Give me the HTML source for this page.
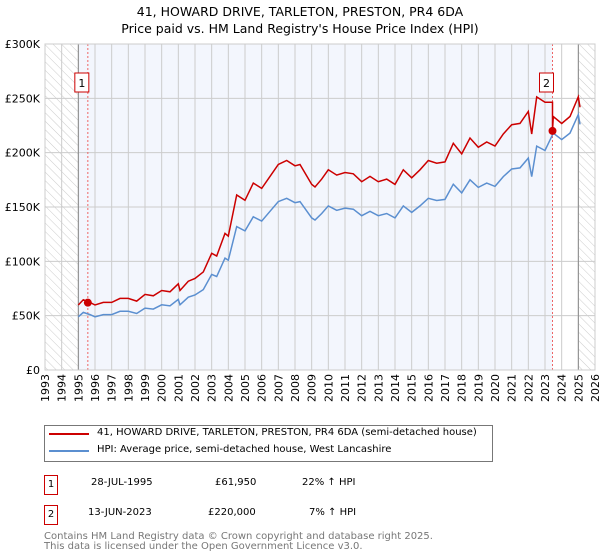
<!DOCTYPE html>
<html><head><meta charset="utf-8">
<style>
body{margin:0;background:#fff;font-family:"DejaVu Sans","Liberation Sans",sans-serif;}
#wrap{position:relative;width:600px;height:560px;overflow:hidden;}
.t{position:absolute;font-size:11px;color:#000;white-space:nowrap;}
</style></head><body>
<div id="wrap">
<svg id="chart" width="600" height="420" style="position:absolute;left:0;top:0"></svg>
<div class="t" style="left:0;width:600px;text-align:center;top:4px;font-size:12.5px">41, HOWARD DRIVE, TARLETON, PRESTON, PR4 6DA</div>
<div class="t" style="left:0;width:600px;text-align:center;top:21px;font-size:12.5px">Price paid vs. HM Land Registry's House Price Index (HPI)</div>
<div style="position:absolute;left:44px;top:425px;width:447px;height:35px;border:1px solid #777;">
 <div style="position:absolute;left:4px;top:7px;width:40px;height:2px;background:#cc0000"></div>
 <div class="t" style="left:52px;top:1px;font-size:10px">41, HOWARD DRIVE, TARLETON, PRESTON, PR4 6DA (semi-detached house)</div>
 <div style="position:absolute;left:4px;top:24px;width:40px;height:2px;background:#5b8fd0"></div>
 <div class="t" style="left:52px;top:18px;font-size:10px">HPI: Average price, semi-detached house, West Lancashire</div>
</div>
<div style="position:absolute;left:44px;top:475px;width:12px;height:18px;border:1px solid #cc0000;font-size:10px;text-align:center;line-height:18px">1</div>
<div class="t" style="left:91px;top:477px;font-size:10px">28-JUL-1995</div>
<div class="t" style="left:215px;top:477px;font-size:10px">£61,950</div>
<div class="t" style="left:302px;top:477px;font-size:10px">22% ↑ HPI</div>
<div style="position:absolute;left:44px;top:505px;width:12px;height:18px;border:1px solid #cc0000;font-size:10px;text-align:center;line-height:18px">2</div>
<div class="t" style="left:88px;top:507px;font-size:10px">13-JUN-2023</div>
<div class="t" style="left:208px;top:507px;font-size:10px">£220,000</div>
<div class="t" style="left:309px;top:507px;font-size:10px">7% ↑ HPI</div>
<div class="t" style="left:44px;top:532px;font-size:10px;color:#777;line-height:10px">Contains HM Land Registry data © Crown copyright and database right 2025.<br>This data is licensed under the Open Government Licence v3.0.</div>
</div>
<script>
const hpiYears=[1995.0,1995.3,1995.7,1996.0,1996.5,1997.0,1997.5,1998.0,1998.5,1999.0,1999.5,2000.0,2000.5,2001.0,2001.1,2001.6,2002.0,2002.5,2003.0,2003.3,2003.8,2004.0,2004.5,2005.0,2005.5,2006.0,2006.5,2007.0,2007.5,2008.0,2008.3,2009.0,2009.2,2009.6,2010.0,2010.5,2011.0,2011.5,2012.0,2012.5,2013.0,2013.5,2014.0,2014.5,2015.0,2015.5,2016.0,2016.5,2017.0,2017.5,2018.0,2018.5,2019.0,2019.5,2020.0,2020.5,2021.0,2021.5,2022.0,2022.2,2022.5,2023.0,2023.5,2024.0,2024.5,2025.0,2025.1];
const hpiValues=[49,53,51,49,51,51,54,54,52,57,56,60,59,65,60,67,69,74,88,86,103,101,132,128,141,137,146,155,158,154,155,140,138,144,151,147,149,148,142,146,142,144,140,151,145,151,158,156,157,171,163,175,168,172,169,178,185,186,195,178,206,202,218,212,218,235,226];
const saleYears=[1995.57,2023.45];
const salePrices=[61.95,220];
const salePremium=[1.22,1.07];
const yTicks=[0,50,100,150,200,250,300];
const yLabels=["£0","£50K","£100K","£150K","£200K","£250K","£300K"];
const xTicks=[1993,1994,1995,1996,1997,1998,1999,2000,2001,2002,2003,2004,2005,2006,2007,2008,2009,2010,2011,2012,2013,2014,2015,2016,2017,2018,2019,2020,2021,2022,2023,2024,2025,2026];

const svg=document.getElementById('chart');const NS='http://www.w3.org/2000/svg';
const X0=45,X1=595,Y0=370,Y1=44;
const sx=y=>X0+(y-1993)/(2026-1993)*(X1-X0);
const sy=v=>Y0-v/300*(Y0-Y1);
function mk(t,a,parent){const e=document.createElementNS(NS,t);for(const k in a)e.setAttribute(k,a[k]);(parent||svg).appendChild(e);return e;}
const defs=mk('defs',{});
const pat=mk('pattern',{id:'hatch',width:6,height:6,patternUnits:'userSpaceOnUse',patternTransform:'rotate(-45)'},defs);
mk('line',{x1:0,y1:0,x2:0,y2:6,stroke:'#ccc','stroke-width':1},pat);
let e=mk('rect',{x:X0,y:Y1,width:X1-X0,height:Y0-Y1,fill:'#fff'});

e=mk('rect',{x:sx(1995),y:Y1,width:sx(saleYears[1])-sx(1995),height:Y0-Y1,fill:'#f3f6fd'});

e=mk('rect',{x:X0,y:Y1,width:sx(1995)-X0,height:Y0-Y1,fill:'url(#hatch)'});

e=mk('rect',{x:sx(2025),y:Y1,width:X1-sx(2025),height:Y0-Y1,fill:'url(#hatch)'});

xTicks.forEach(t=>{const l=mk('line',{x1:sx(t),x2:sx(t),y1:Y1,y2:Y0,stroke:'#ccc','stroke-width':1});

const tx=mk('text',{x:0,y:0,'font-size':11,'text-anchor':'end',transform:`translate(${sx(t)+4},${Y0+4}) rotate(-90)`,'font-family':'DejaVu Sans, sans-serif'});tx.textContent=t;
});
yTicks.forEach((t,i)=>{const l=mk('line',{x1:X0,x2:X1,y1:sy(t),y2:sy(t),stroke:'#ccc','stroke-width':1});

const tx=mk('text',{x:X0-5,y:sy(t)+4,'font-size':11,'text-anchor':'end','font-family':'DejaVu Sans, sans-serif'});tx.textContent=yLabels[i];
});
[1995,2025].forEach(t=>{const l=mk('line',{x1:sx(t),x2:sx(t),y1:Y1,y2:Y0,stroke:'#888','stroke-width':1});
});
saleYears.forEach(t=>{const l=mk('line',{x1:sx(t),x2:sx(t),y1:Y1,y2:Y0,stroke:'#e66','stroke-width':1,'stroke-dasharray':'2,2'});
});
const hp=hpiYears.map((y,i)=>`${sx(y).toFixed(1)},${sy(hpiValues[i]).toFixed(1)}`).join(' ');
e=mk('polyline',{points:hp,fill:'none',stroke:'#5b8fd0','stroke-width':1.5});

const rp=[];hpiYears.forEach((y,i)=>{if(i>0&&hpiYears[i-1]<saleYears[1]&&y>=saleYears[1]){rp.push([saleYears[1],salePrices[1]*salePremium[0]/salePremium[1]*0+hpiValues[i-1]*salePremium[0]]);rp.push([saleYears[1],salePrices[1]]);}
rp.push([y,hpiValues[i]*(y<saleYears[1]?salePremium[0]:salePremium[1])]);});
e=mk('polyline',{points:rp.map(p=>`${sx(p[0]).toFixed(1)},${sy(p[1]).toFixed(1)}`).join(' '),fill:'none',stroke:'#cc0000','stroke-width':1.5});

saleYears.forEach((t,i)=>{const c=mk('circle',{cx:sx(t),cy:sy(salePrices[i]),r:4,fill:'#cc0000'});

const b=mk('rect',{x:sx(t)-10+(i==0?-3:-3),y:73,width:14,height:19,fill:'#fff',stroke:'#cc0000','stroke-width':1});

const tx=mk('text',{x:sx(t)-3-(i==0?3:3)+0,y:87,'font-size':11,'text-anchor':'middle','font-family':'DejaVu Sans, sans-serif'});tx.textContent=i+1;
});
e=mk('rect',{x:X0,y:Y1,width:X1-X0,height:Y0-Y1,fill:'none',stroke:'#ccc'});

</script>
</body></html>
